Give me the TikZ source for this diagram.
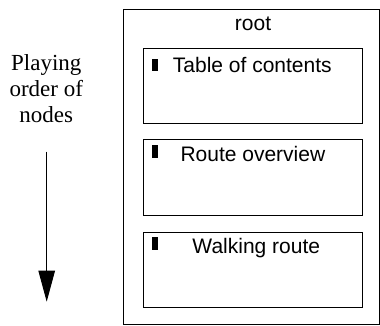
\documentclass[tikz,border=0pt]{standalone}
\usepackage{fontspec}
\setmainfont{Liberation Serif}
\setsansfont{Liberation Sans}
\usetikzlibrary{arrows.meta, positioning}

\begin{document}
\begin{tikzpicture}[x=1pt, y=-1pt, line width=1pt,
    box/.style={draw, rectangle, inner sep=0pt, minimum width=219pt, minimum height=75pt},
    title/.style={font=\sffamily\fontsize{21}{25}\selectfont, anchor=base, inner sep=0pt},
    marker/.style={fill, rectangle, inner sep=0pt, minimum width=5.5pt, minimum height=12.5pt, anchor=north west}]
  \useasboundingbox (0,0) rectangle (380,326);

  \node[draw, inner sep=0pt, minimum width=256.5pt, minimum height=314.5pt, anchor=north west] (root) at (122.5,9.5) {};
  \node[title] (roottitle) at (253,30.3) {root};

  \node[box] (toc) at (252.5,85.8) {};
  \node[box] (overview) at (252.5,177.5) {};
  \node[box] (walk) at (252.5,269.5) {};

  \node[marker] (tocmark) at (151.7,58.3) {};
  \node[marker] (overviewmark) at (151.7,145) {};
  \node[marker] (walkmark) at (151.7,236.7) {};

  \node[title] (toctitle) at (252.3,72.5) {Table of contents};
  \node[title] (overviewtitle) at (252.9,161.7) {Route overview};
  \node[title] (walktitle) at (256.3,253) {Walking route};

  \node[font=\fontsize{23}{26.3}\selectfont, align=center, anchor=base, inner sep=0pt] (order) at (46.3,122.7) {Playing\\order of\\nodes};

  \coordinate (start) at (46.7,151.7);
  \coordinate (end) at (46.7,301.7);
  \draw[-{Triangle[length=31pt, width=16.5pt]}] (start) -- (end);
\end{tikzpicture}
\end{document}
